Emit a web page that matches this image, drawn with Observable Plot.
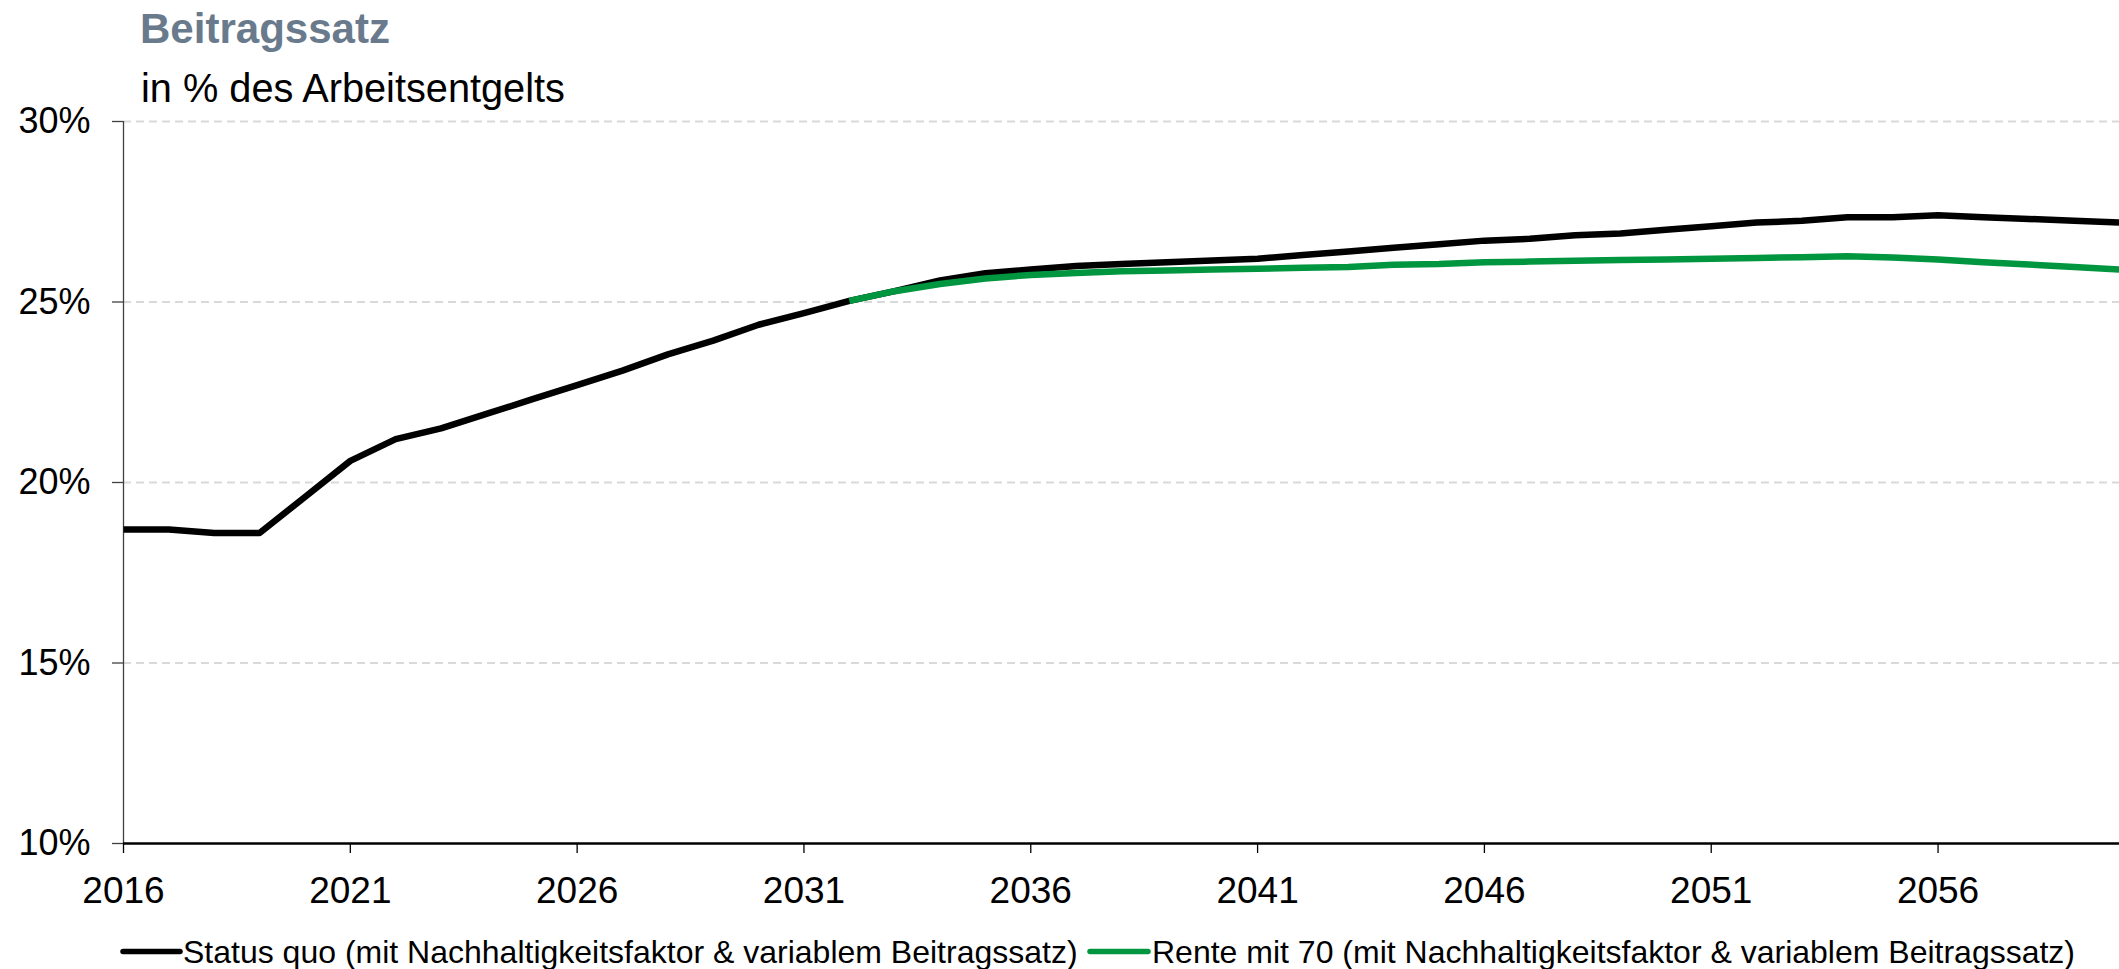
<!DOCTYPE html>
<html>
<head>
<meta charset="utf-8">
<script src="https://cdn.jsdelivr.net/npm/d3@7"></script>
<script src="https://cdn.jsdelivr.net/npm/@observablehq/plot@0.6"></script>
<style>
  html, body { margin: 0; padding: 0; background: #fff; }
  #chart { width: 2119px; height: 969px; overflow: hidden; }
</style>
</head>
<body>
<div id="chart"></div>
<script>
// ---- Data ----
const years = [2016, 2017, 2018, 2019, 2020, 2021, 2022, 2023, 2024, 2025,
               2026, 2027, 2028, 2029, 2030, 2031, 2032, 2033, 2034, 2035,
               2036, 2037, 2038, 2039, 2040, 2041, 2042, 2043, 2044, 2045,
               2046, 2047, 2048, 2049, 2050, 2051, 2052, 2053, 2054, 2055,
               2056, 2057, 2058, 2059, 2060];

// Status quo (mit Nachhaltigkeitsfaktor & variablem Beitragssatz)
const statusQuo = [18.7, 18.7, 18.6, 18.6, 19.6, 20.6, 21.2, 21.5, 21.9, 22.3,
                   22.7, 23.1, 23.55, 23.93, 24.37, 24.69, 25.03, 25.3, 25.6, 25.8,
                   25.9, 26.0, 26.05, 26.1, 26.15, 26.2, 26.3, 26.4, 26.5, 26.6,
                   26.7, 26.75, 26.85, 26.9, 27.0, 27.1, 27.2, 27.25, 27.35, 27.35,
                   27.4, 27.35, 27.3, 27.25, 27.2];

// Rente mit 70 (mit Nachhaltigkeitsfaktor & variablem Beitragssatz), from 2032
const renteYears = [2032, 2033, 2034, 2035, 2036, 2037, 2038, 2039, 2040, 2041,
                    2042, 2043, 2044, 2045, 2046, 2047, 2048, 2049, 2050, 2051,
                    2052, 2053, 2054, 2055, 2056, 2057, 2058, 2059, 2060];
const rente70 = [25.03, 25.3, 25.5, 25.65, 25.75, 25.8, 25.85, 25.87, 25.9, 25.92,
                 25.95, 25.97, 26.03, 26.05, 26.1, 26.12, 26.14, 26.16, 26.18, 26.2,
                 26.22, 26.24, 26.27, 26.23, 26.18, 26.1, 26.04, 25.97, 25.9];

const xTicks = [2016, 2021, 2026, 2031, 2036, 2041, 2046, 2051, 2056];
const yTicks = [10, 15, 20, 25, 30];

const seriesNames = ["Status quo (mit Nachhaltigkeitsfaktor & variablem Beitragssatz)",
                     "Rente mit 70 (mit Nachhaltigkeitsfaktor & variablem Beitragssatz)"];
const seriesColors = ["#000000", "#009640"];

const titleText = "Beitragssatz";
const subtitleText = "in % des Arbeitsentgelts";

// ---- Build tables ----
const sqData = years.map((y, i) => ({year: y, value: statusQuo[i]}));
const rData = renteYears.map((y, i) => ({year: y, value: rente70[i]}));

const FONT = "'Liberation Sans', Arial, Helvetica, sans-serif";

const plot = Plot.plot({
  width: 2119,
  height: 969,
  marginLeft: 123,
  marginRight: 0,
  marginTop: 121,
  marginBottom: 126,
  style: {fontFamily: FONT, fontSize: "36px", color: "#000", background: "#fff", overflow: "visible"},
  x: {domain: [2016, 2060]},
  y: {domain: [10, 30]},
  marks: [
    Plot.gridY(yTicks.filter(d => d !== 10), {stroke: "#d9d9d9", strokeOpacity: 1, strokeWidth: 2, strokeDasharray: "8,5"}),
    Plot.axisY({ticks: yTicks, tickSize: 11, tickPadding: 22, tickFormat: d => d + "%", stroke: "#404040", strokeWidth: 1.3, fill: "#000", label: null, fontSize: 36}),
    Plot.axisX({ticks: xTicks, tickSize: 10, tickPadding: 23, tickFormat: d => String(d), stroke: "#000", strokeWidth: 1.3, fill: "#000", label: null, fontSize: 37}),
    Plot.ruleX([2016], {y1: 10, y2: 30, stroke: "#404040", strokeWidth: 1.3}),
    Plot.ruleY([10], {stroke: "#000", strokeWidth: 2.5}),
    Plot.line(sqData, {x: "year", y: "value", stroke: seriesColors[0], strokeWidth: 6.5, strokeLinecap: "butt", strokeLinejoin: "round"}),
    Plot.line(rData, {x: "year", y: "value", stroke: seriesColors[1], strokeWidth: 6.5, strokeLinecap: "butt", strokeLinejoin: "round"})
  ]
});

document.getElementById("chart").appendChild(plot);
const svg = d3.select(plot);

// Fit a text to a target width measured on the reference
function fitText(sel, baseSize, targetWidth) {
  sel.style("font-size", baseSize + "px");
  const len = sel.node().getComputedTextLength();
  if (len > 0) sel.style("font-size", (baseSize * targetWidth / len).toFixed(2) + "px");
}

// Title and subtitle
const title = svg.append("text")
  .attr("x", 140).attr("y", 43)
  .attr("text-anchor", "start")
  .style("font-family", FONT).style("font-weight", "bold")
  .attr("fill", "#697a8c")
  .text(titleText);
fitText(title, 41, 250);

const subtitle = svg.append("text")
  .attr("x", 141).attr("y", 102)
  .attr("text-anchor", "start")
  .style("font-family", FONT)
  .attr("fill", "#000")
  .text(subtitleText);
fitText(subtitle, 39, 424);

// Legend
const legend = [
  {x1: 123, x2: 180, tx: 183},
  {x1: 1090, x2: 1148, tx: 1152}
];
legend.forEach((l, i) => {
  svg.append("line")
    .attr("x1", l.x1).attr("x2", l.x2).attr("y1", 951.5).attr("y2", 951.5)
    .attr("stroke", seriesColors[i]).attr("stroke-width", 5.5).attr("stroke-linecap", "round");
  svg.append("text")
    .attr("x", l.tx).attr("y", 963)
    .attr("text-anchor", "start")
    .style("font-family", FONT).style("font-size", "32px")
    .attr("fill", "#000")
    .text(seriesNames[i]);
});
</script>
</body>
</html>
